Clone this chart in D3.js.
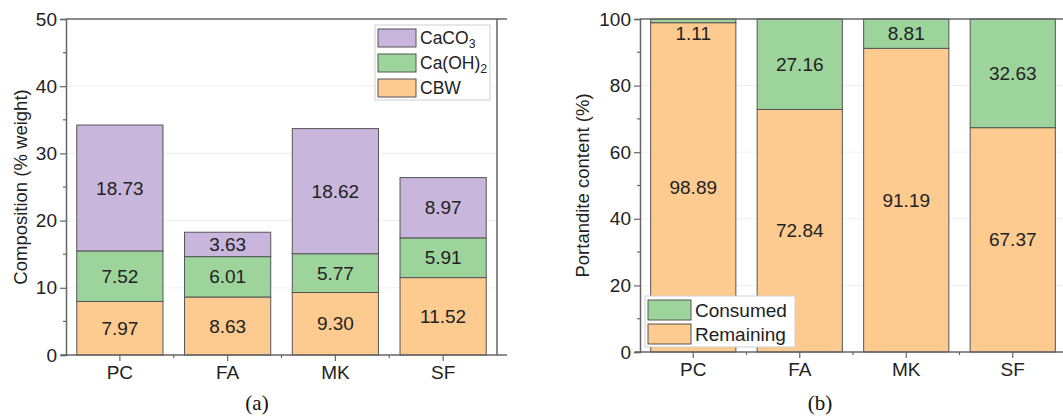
<!DOCTYPE html>
<html>
<head>
<meta charset="utf-8">
<script src="https://cdn.jsdelivr.net/npm/d3@7"></script>
<style>
  body { margin: 0; background: #fff; }
  svg { display: block; font-family: "Liberation Sans", Arial, sans-serif; }
</style>
</head>
<body>
<svg id="chart" width="1063" height="420"></svg>
<script>
const categories = ["PC", "FA", "MK", "SF"];

// panel (a): composition, % weight
const cbw = [7.97, 8.63, 9.30, 11.52];
const caoh2 = [7.52, 6.01, 5.77, 5.91];
const caco3 = [18.73, 3.63, 18.62, 8.97];

// panel (b): portlandite content, %
const remaining = [98.89, 72.84, 91.19, 67.37];
const consumed = [1.11, 27.16, 8.81, 32.63];

const yTicksA = [0, 10, 20, 30, 40, 50];
const yTicksB = [0, 20, 40, 60, 80, 100];

const colors = { purple: "#c8b6dc", green: "#9dd49c", orange: "#fdca90" };
const axisColor = "#666";

const svg = d3.select("#chart");

function drawPanel(opt) {
  const g = svg.append("g");
  const x = d3.scaleBand().domain(categories).range(opt.xRange)
    .paddingInner(0.2).paddingOuter(0.1);
  const y = d3.scaleLinear().domain(opt.yDomain).range(opt.yRange);

  // faint grid
  g.selectAll(".grid").data(opt.yTicks.slice(1, -1)).enter().append("line")
    .attr("x1", opt.xRange[0]).attr("x2", opt.xRange[1])
    .attr("y1", d => y(d)).attr("y2", d => y(d))
    .attr("stroke", "#efefef").attr("stroke-width", 1);

  const rows = categories.map((c, i) => {
    const r = { cat: c };
    opt.series.forEach(s => r[s.key] = s.values[i]);
    return r;
  });
  const stacked = d3.stack().keys(opt.series.map(s => s.key))(rows);

  stacked.forEach((layer, li) => {
    const s = opt.series[li];
    const lg = g.append("g");
    lg.selectAll("rect").data(layer).enter().append("rect")
      .attr("x", d => x(d.data.cat))
      .attr("width", x.bandwidth())
      .attr("y", d => y(d[1]))
      .attr("height", d => y(d[0]) - y(d[1]))
      .attr("fill", s.color)
      .attr("stroke", "#555")
      .attr("stroke-width", 1);
    lg.selectAll("text").data(layer).enter().append("text")
      .attr("x", d => x(d.data.cat) + x.bandwidth() / 2)
      .attr("y", d => {
        const h = y(d[0]) - y(d[1]);
        return h < 16 ? y(d[1]) + 14 : (y(d[0]) + y(d[1])) / 2;
      })
      .attr("dy", "0.35em")
      .attr("text-anchor", "middle")
      .attr("font-size", 19)
      .attr("fill", "#222")
      .text(d => (d[1] - d[0]).toFixed(2));
  });

  // frame
  const [x0, x1] = opt.xRange;
  g.append("path")
    .attr("d", `M${x0},${opt.yRange[1]}H${x1 + 10}M${x1},${opt.yRange[1]}V${opt.yRange[0]}`)
    .attr("stroke", axisColor).attr("stroke-width", 1.5).attr("fill", "none");

  // y axis
  const yAxis = g.append("g").attr("transform", `translate(${x0},0)`)
    .call(d3.axisLeft(y).tickValues(opt.yTicks).tickSize(6).tickPadding(3));
  const minor = d3.range(opt.yDomain[0] + opt.yTicks[1] / 2, opt.yDomain[1], opt.yTicks[1]);
  yAxis.selectAll(".minor").data(minor).enter().append("line")
    .attr("x1", -3).attr("x2", 0).attr("y1", d => y(d)).attr("y2", d => y(d))
    .attr("stroke", axisColor).attr("stroke-width", 1.2);

  // x axis
  const xAxis = g.append("g").attr("transform", `translate(0,${opt.yRange[0]})`)
    .call(d3.axisBottom(x).tickSize(6).tickPadding(5));
  const bounds = categories.slice(1).map(c => x(c) - x.step() * 0.1);
  xAxis.selectAll(".minor").data(bounds).enter().append("line")
    .attr("x1", d => d).attr("x2", d => d).attr("y1", 0).attr("y2", 3)
    .attr("stroke", axisColor).attr("stroke-width", 1.2);

  [yAxis, xAxis].forEach(a => {
    a.select(".domain").attr("stroke", axisColor).attr("stroke-width", 1.5);
    a.selectAll(".tick line").attr("stroke", axisColor).attr("stroke-width", 1.2);
    a.selectAll(".tick text").attr("font-size", 19).attr("fill", "#222")
      .attr("font-family", '"Liberation Sans", Arial, sans-serif');
  });
  xAxis.select(".domain").attr("d", `M${x0 - 5},0H${x1 + 10}`);

  // y title
  svg.append("text")
    .attr("transform", `translate(${opt.titleX},${(opt.yRange[0] + opt.yRange[1]) / 2}) rotate(-90)`)
    .attr("text-anchor", "middle").attr("dy", "0.35em")
    .attr("font-size", 18.5).attr("fill", "#222")
    .text(opt.title);

  // caption
  svg.append("text")
    .attr("x", opt.captionX).attr("y", 410)
    .attr("text-anchor", "middle")
    .attr("font-family", '"Liberation Serif", "Times New Roman", serif')
    .attr("font-size", 21).attr("fill", "#111")
    .text(opt.caption);

  return g;
}

function drawLegend(box, items) {
  const lg = svg.append("g");
  lg.append("rect")
    .attr("x", box.x).attr("y", box.y).attr("width", box.w).attr("height", box.h)
    .attr("fill", "#fff").attr("stroke", "#d0d0d0").attr("stroke-width", 1);
  items.forEach((it, i) => {
    const yy = box.y + box.pad + i * box.step;
    lg.append("rect")
      .attr("x", box.x + 3).attr("y", yy).attr("width", box.sw).attr("height", box.sh)
      .attr("fill", it.color).attr("stroke", "#555").attr("stroke-width", 1);
    const t = lg.append("text")
      .attr("x", box.x + box.sw + 7).attr("y", yy + box.sh / 2)
      .attr("dy", "0.35em").attr("font-size", box.fs).attr("fill", "#222");
    it.label.forEach(part => {
      if (part.sub) {
        t.append("tspan").attr("font-size", box.fs * 0.7).attr("dy", "0.3em").text(part.sub);
      } else {
        t.append("tspan").text(part.t);
      }
    });
  });
}

drawPanel({
  xRange: [66, 497], yRange: [355, 19], yDomain: [0, 50], yTicks: yTicksA,
  series: [
    { key: "cbw", values: cbw, color: colors.orange },
    { key: "caoh2", values: caoh2, color: colors.green },
    { key: "caco3", values: caco3, color: colors.purple }
  ],
  title: "Composition (% weight)", titleX: 21, caption: "(a)", captionX: 257
});

drawPanel({
  xRange: [640, 1066], yRange: [352, 19], yDomain: [0, 100], yTicks: yTicksB,
  series: [
    { key: "remaining", values: remaining, color: colors.orange },
    { key: "consumed", values: consumed, color: colors.green }
  ],
  title: "Portandite content (%)", titleX: 583, caption: "(b)", captionX: 820
});

drawLegend({ x: 375, y: 25, w: 115, h: 75, pad: 4, step: 25, sw: 38, sh: 18, fs: 17.5 }, [
  { color: colors.purple, label: [{ t: "CaCO" }, { sub: "3" }] },
  { color: colors.green, label: [{ t: "Ca(OH)" }, { sub: "2" }] },
  { color: colors.orange, label: [{ t: "CBW" }] }
]);

drawLegend({ x: 645, y: 296, w: 150, h: 51, pad: 4, step: 24, sw: 43, sh: 20, fs: 19 }, [
  { color: colors.green, label: [{ t: "Consumed" }] },
  { color: colors.orange, label: [{ t: "Remaining" }] }
]);
</script>
</body>
</html>
